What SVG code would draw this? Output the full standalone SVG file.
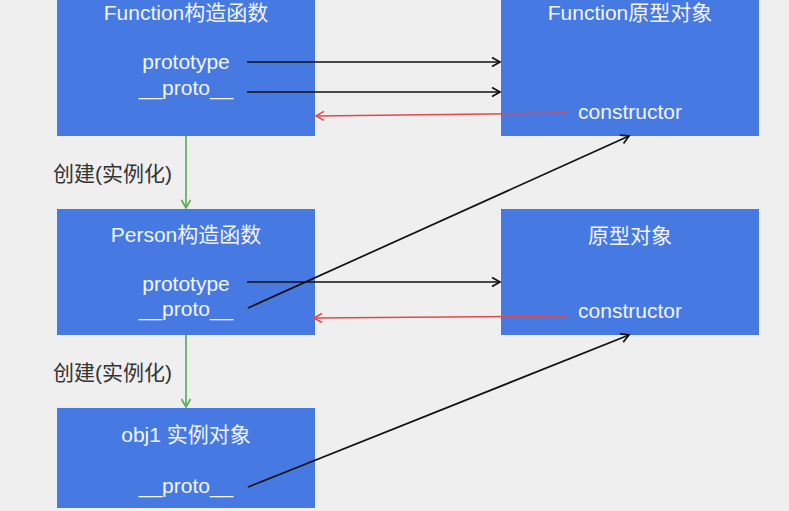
<svg xmlns="http://www.w3.org/2000/svg" width="789" height="511" viewBox="0 0 789 511">
<style>
.box{fill:#4779E3;}
.t{font-family:"Liberation Sans","Noto Sans CJK SC",sans-serif;font-size:21px;fill:#F2F5FF;text-anchor:middle;}
.lbl{font-family:"Liberation Sans","Noto Sans CJK SC",sans-serif;font-size:21px;fill:#333;}
.blk{stroke:#111;stroke-width:1.7;fill:none;marker-end:url(#ab);}
.red{stroke:#E8474A;stroke-width:1.6;fill:none;marker-end:url(#ar);}
.grn{stroke:#5BAE5B;stroke-width:1.7;fill:none;marker-end:url(#ag);}
</style>
<defs>
<marker id="ab" markerWidth="12" markerHeight="12" refX="10" refY="6" orient="auto" markerUnits="userSpaceOnUse"><path d="M2,1.5 L10,6 L2,10.5" fill="none" stroke="#111" stroke-width="1.7"/></marker>
<marker id="ar" markerWidth="12" markerHeight="12" refX="10" refY="6" orient="auto" markerUnits="userSpaceOnUse"><path d="M2,1.5 L10,6 L2,10.5" fill="none" stroke="#E8474A" stroke-width="1.6"/></marker>
<marker id="ag" markerWidth="12" markerHeight="12" refX="10" refY="6" orient="auto" markerUnits="userSpaceOnUse"><path d="M2,1.5 L10,6 L2,10.5" fill="none" stroke="#5BAE5B" stroke-width="1.7"/></marker>
</defs>
<rect x="0" y="0" width="789" height="511" fill="#EFEFEF"/>
<g id="fnCtor">
<rect class="box" x="57" y="-10" width="258" height="146"/>
<text class="t" x="186" y="20">Function构造函数</text>
<text class="t" x="186" y="69">prototype</text>
<text class="t" x="186" y="95">__proto__</text>
</g>
<g id="fnProto">
<rect class="box" x="501" y="-10" width="258" height="146"/>
<text class="t" x="630" y="20">Function原型对象</text>
<text class="t" x="630" y="119">constructor</text>
</g>
<g id="personCtor">
<rect class="box" x="57" y="209" width="258" height="126"/>
<text class="t" x="186" y="242">Person构造函数</text>
<text class="t" x="186" y="291">prototype</text>
<text class="t" x="186" y="316">__proto__</text>
</g>
<g id="personProto">
<rect class="box" x="501" y="209" width="258" height="126"/>
<text class="t" x="630" y="243">原型对象</text>
<text class="t" x="630" y="318">constructor</text>
</g>
<g id="obj1">
<rect class="box" x="57" y="408" width="258" height="100"/>
<text class="t" x="186" y="442">obj1 实例对象</text>
<text class="t" x="186" y="493">__proto__</text>
</g>
<g id="connectors">
<line class="blk" x1="247" y1="62" x2="500" y2="62"/>
<line class="blk" x1="247" y1="92" x2="500" y2="92"/>
<line class="red" x1="568" y1="113" x2="316" y2="116"/>
<line class="grn" x1="186" y1="136" x2="186" y2="208"/>
<text class="lbl" x="53" y="181">创建(实例化)</text>
<line class="blk" x1="247" y1="282" x2="500" y2="282"/>
<line class="blk" x1="248" y1="308" x2="629" y2="136"/>
<line class="red" x1="567" y1="316" x2="314" y2="318"/>
<line class="grn" x1="186" y1="335" x2="186" y2="407"/>
<text class="lbl" x="53" y="380">创建(实例化)</text>
<line class="blk" x1="248" y1="487" x2="629" y2="335"/>
</g>
</svg>
